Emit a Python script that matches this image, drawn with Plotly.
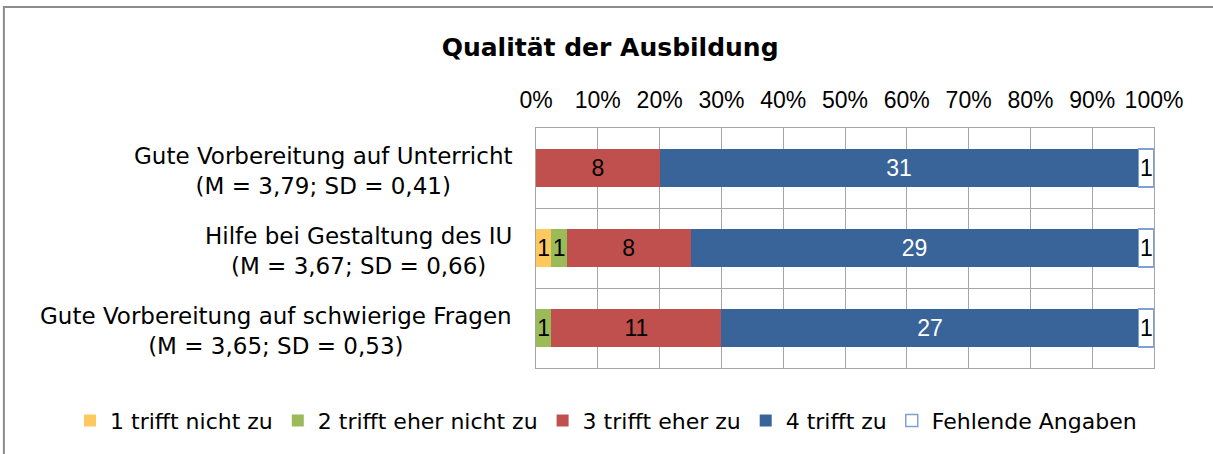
import plotly.graph_objects as go

categories = [
    "Gute Vorbereitung auf Unterricht<br>(M = 3,79; SD = 0,41)",
    "Hilfe bei Gestaltung des IU<br>(M = 3,67; SD = 0,66)",
    "Gute Vorbereitung auf schwierige Fragen<br>(M = 3,65; SD = 0,53)",
]
series_names = ["1 trifft nicht zu", "2 trifft eher nicht zu", "3 trifft eher zu",
                "4 trifft zu", "Fehlende Angaben"]
v1 = [0, 1, 0]
v2 = [0, 1, 1]
v3 = [8, 8, 11]
v4 = [31, 29, 27]
v_missing = [1, 1, 1]
tick_vals = [0, 0.1, 0.2, 0.3, 0.4, 0.5, 0.6, 0.7, 0.8, 0.9, 1.0]
tick_text = ["0%", "10%", "20%", "30%", "40%", "50%", "60%", "70%", "80%", "90%", "100%"]

all_series = [v1, v2, v3, v4, v_missing]
totals = [sum(s[i] for s in all_series) for i in range(len(categories))]

fills = ["#FDC95E", "#9BBB59", "#C0504D", "#38649A", "#FFFFFF"]
lines = ["#FDC95E", "#9BBB59", "#C0504D", "#38649A", "#7EA1D4"]
txtcol = ["#000000", "#000000", "#000000", "#FFFFFF", "#000000"]

ypos = list(range(len(categories)))
LIB = "Liberation Sans, Arial, sans-serif"
DJV = "DejaVu Sans, sans-serif"

fig = go.Figure()
for name, vals, fc, lc, tc in zip(series_names, all_series, fills, lines, txtcol):
    fig.add_trace(go.Bar(
        name=name,
        y=ypos,
        x=[v / t for v, t in zip(vals, totals)],
        orientation="h",
        marker=dict(color=fc, line=dict(color=lc, width=1.5 if fc == "#FFFFFF" else 0)),
        text=[str(v) if v else "" for v in vals],
        textposition="inside",
        insidetextanchor="middle",
        textfont=dict(color=tc, size=23, family=LIB),
        hoverinfo="skip",
    ))

annotations = []
for i, c in enumerate(categories):
    annotations.append(dict(
        x=0, xref="paper", xanchor="right", xshift=-22,
        y=ypos[i], yref="y", yanchor="middle", yshift=-3,
        text=c, showarrow=False, align="center",
        font=dict(size=23, family=DJV, color="#000000"),
    ))

fig.update_layout(
    barmode="stack",
    bargap=0.52,
    width=1213, height=454,
    margin=dict(l=536, r=59, t=128, b=84),
    paper_bgcolor="white",
    plot_bgcolor="white",
    font=dict(family=LIB, size=19, color="#000000"),
    title=dict(text="<b>Qualität der Ausbildung</b>", x=0.503, xanchor="center",
               y=0.896, yanchor="middle", font=dict(size=25, family=DJV)),
    uniformtext=dict(mode="show", minsize=23),
    xaxis=dict(
        side="top", range=[0, 1], tickvals=tick_vals, ticktext=tick_text,
        showgrid=True, gridcolor="#A6A6A6", gridwidth=1,
        showline=True, linecolor="#A6A6A6", mirror=True,
        zeroline=False, ticks="", ticklabelstandoff=10,
        tickfont=dict(size=23, family=LIB),
        automargin=False, fixedrange=True,
    ),
    yaxis=dict(
        range=[len(categories) - 0.5, -0.5],
        tickvals=ypos, ticktext=["" for _ in ypos], showticklabels=False,
        showgrid=False, zeroline=False,
        showline=True, linecolor="#A6A6A6", mirror=True,
        minor=dict(tickvals=[i - 0.5 for i in range(len(categories) + 1)],
                   showgrid=True, gridcolor="#A6A6A6", gridwidth=1),
        automargin=False, fixedrange=True,
    ),
    legend=dict(orientation="h", x=-0.754, xanchor="left", y=-0.22, yanchor="middle",
                font=dict(size=22, family=DJV), traceorder="normal",
                itemwidth=30, tracegroupgap=0),
    annotations=annotations,
    shapes=[dict(type="rect", xref="paper", yref="paper",
                 x0=-0.861, x1=1.2, y0=-0.5, y1=1.504,
                 line=dict(color="#8C8C8C", width=2), layer="below")],
    showlegend=True,
)

fig.write_html("out.html", post_script="document.body.style.margin='0';",
               config={"displayModeBar": False})
